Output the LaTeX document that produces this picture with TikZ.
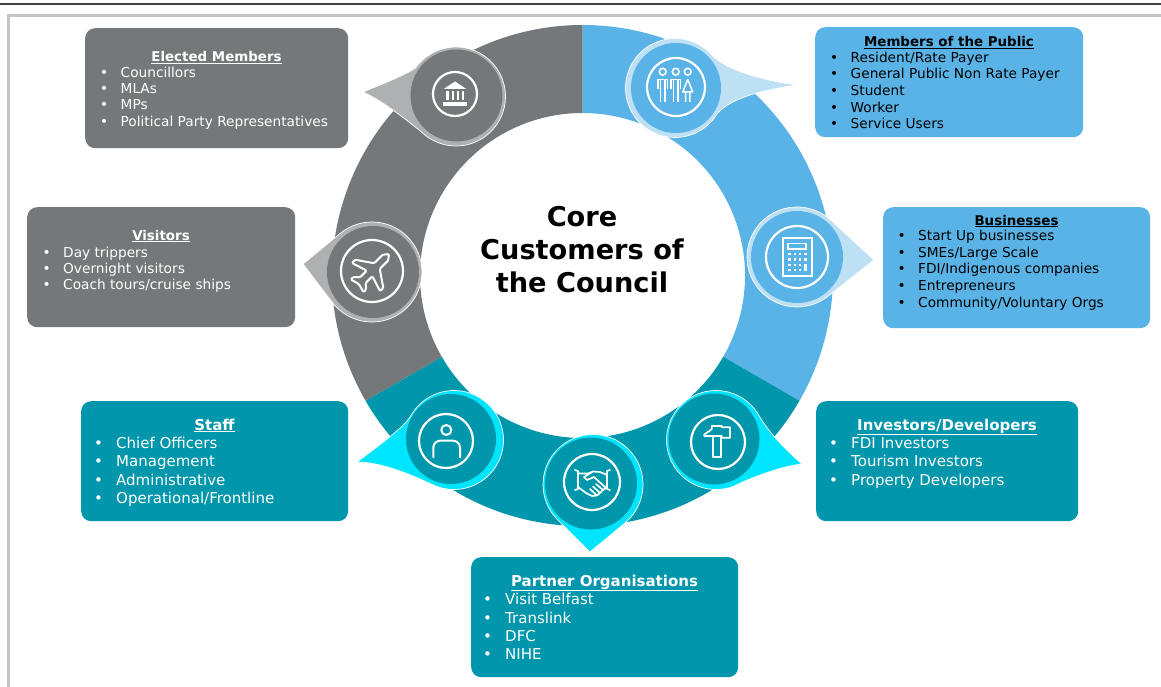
\documentclass[tikz,border=0pt]{standalone}
\usepackage{fontspec}
\setmainfont{DejaVu Sans}
\usetikzlibrary{calc}
\definecolor{cgray}{HTML}{75787B}
\definecolor{cblue}{HTML}{59B3E6}
\definecolor{cteal}{HTML}{0096AB}
\definecolor{lgray}{HTML}{AEB0B2}
\definecolor{lblue}{HTML}{BDE0F5}
\definecolor{lcyan}{HTML}{00E5FF}
\definecolor{framecol}{HTML}{C4C4C4}
\tikzset{
  infobox/.style={rounded corners=10pt,draw=none},
  boxtitle/.style={anchor=base,inner sep=0pt,font=\bfseries\fontsize{13.4}{16}\selectfont},
  boxitem/.style={anchor=base west,inner sep=0pt,font=\fontsize{13.7}{16}\selectfont},
  bigtitle/.style={anchor=base,inner sep=0pt,font=\bfseries\fontsize{15}{18}\selectfont},
  bigitem/.style={anchor=base west,inner sep=0pt,font=\fontsize{15}{18}\selectfont},
  corelabel/.style={anchor=base,inner sep=0pt,font=\bfseries\fontsize{27.2}{32}\selectfont,text=black},
  iconline/.style={draw=white,line width=2pt,line join=round,line cap=round},
  iconring/.style={draw=white,line width=2.2pt},
  pinoutline/.style={fill=pincolor,draw=white,line width=.7pt,line join=miter},
}
% #1 centre, #2 R, #3 tip, #4 start angle, #5 end angle, #6-#9 controls; colour = pincolor
\newcommand{\pinshape}[9]{%
  \coordinate (pc) at #1;
  \path[pinoutline] #3 .. controls #6 and #7 .. ($(pc)+(#4:#2)$)
    arc[start angle=#4,end angle=#5,radius=#2]
    .. controls #8 and #9 .. #3 -- cycle;
}
\begin{document}
\begin{tikzpicture}[x=1pt,y=-1pt]
\useasboundingbox (0,0) rectangle (1161,687);
\fill[white] (0,0) rectangle (1161,687);
% page rules
\draw[draw=black!75,line width=2pt] (0,4.5) -- (1161,4.5);
\draw[framecol,line width=2.6pt] (8.5,689) -- (8.5,15.5) -- (1163,15.5);
% ring
\coordinate (rc) at (582.5,275.5);
\fill[cblue] ($(rc)+(-90:250.5)$) arc[start angle=-90,end angle=30,radius=250.5] -- ($(rc)+(30:162.5)$) arc[start angle=30,end angle=-90,radius=162.5] -- cycle;
\fill[cteal] ($(rc)+(30:250.5)$) arc[start angle=30,end angle=150,radius=250.5] -- ($(rc)+(150:162.5)$) arc[start angle=150,end angle=30,radius=162.5] -- cycle;
\fill[cgray] ($(rc)+(150:250.5)$) arc[start angle=150,end angle=270,radius=250.5] -- ($(rc)+(270:162.5)$) arc[start angle=270,end angle=150,radius=162.5] -- cycle;
% centre text
\node[corelabel] (core1) at (582,226.5) {Core};
\node[corelabel] (core2) at (582,259.5) {Customers of};
\node[corelabel] (core3) at (582,292.5) {the Council};
% pins
\colorlet{pincolor}{lgray}
\pinshape{(456,96.5)}{49.5}{(363,92)}{215}{494}{(385,83)}{(405,75)}{(410,123)}{(385,102)}
\fill[cgray] (456.5,95.5) circle[radius=46];
\colorlet{pincolor}{lblue}
\pinshape{(675,88)}{49.5}{(798,85)}{37}{317}{(760,90)}{(724,100)}{(720,66)}{(755,80)}
\fill[cblue] (676,88) circle[radius=45];
\pinshape{(797,257)}{50}{(874,260)}{51.7}{312.7}{(874,260)}{(828,296.2)}{(830.9,220.2)}{(874,260)}
\fill[cblue] (797,257) circle[radius=46];
\colorlet{pincolor}{lgray}
\pinshape{(372,272)}{50}{(303,264)}{230.6}{502.6}{(303,264)}{(340.3,233.3)}{(332.3,302.4)}{(303,264)}
\fill[cgray] (373,272) circle[radius=46];
\colorlet{pincolor}{lcyan}
\pinshape{(454,440)}{49.5}{(357,462)}{211}{475}{(378,446)}{(405,427)}{(420,479)}{(385,462)}
\fill[cteal] (451,439) circle[radius=45];
\pinshape{(593,484.5)}{50}{(590,552)}{134.7}{410.3}{(590,552)}{(557.8,520)}{(624.9,523)}{(590,552)}
\fill[cteal] (591,483.5) circle[radius=46];
\pinshape{(716,440)}{49.5}{(802,464)}{70}{332}{(782,466)}{(750,478)}{(767,429)}{(780,445)}
\fill[cteal] (714,439) circle[radius=45.5];
% icon rings
\draw[iconring] (455,94) circle[radius=22];
\draw[iconring] (676,87) circle[radius=29];
\draw[iconring] (797,257) circle[radius=31];
\draw[iconring] (372,271) circle[radius=31];
\draw[iconring] (446,441) circle[radius=27];
\draw[iconring] (592,482) circle[radius=28];
\draw[iconring] (718,442) circle[radius=27];
% bank icon
\fill[white] (455,81.5) -- (466,88.8) -- (444,88.8) -- cycle;
\fill[white] (443,102) rectangle (467,106.5);
\foreach \cx in {447.5,452.7,458,463}{\fill[white] (\cx-1.2,91) rectangle (\cx+1.2,100);}
% people icon
\foreach \hx in {662.7,675.7,687.7}{\draw[white,line width=1.6pt] (\hx,71.7) circle[radius=3.4];}
\foreach \hx in {662.7,675.7}{
  \draw[white,line width=1.5pt,line join=round] (\hx-4.9,89) -- (\hx-4.9,79.5) -- (\hx+4.9,79.5) -- (\hx+4.9,89);
  \draw[white,line width=1.5pt,line join=round] (\hx-2.2,102) -- (\hx-2.2,79.5) (\hx+2.2,79.5) -- (\hx+2.2,102);
}
\draw[white,line width=1.5pt,line join=round] (687.7,79.5) -- (682.7,92) -- (692.7,92) -- cycle (685.5,92) -- (685.5,102) (689.9,92) -- (689.9,102);
% calculator icon
\draw[iconline,line join=miter] (783.3,238.3) rectangle (811.7,276);
\draw[white,line width=1.4pt] (788,243.5) rectangle (806,249);
\foreach \dx in {789.3,794.7,800}{\foreach \dy in {254,259.3,264.7,270}{\fill[white] (\dx-1.2,\dy-1.2) rectangle (\dx+1.2,\dy+1.2);}}
\fill[white] (804.1,252.8) rectangle (806.5,255.2);
\fill[white] (804.1,258.1) rectangle (806.5,260.5);
\fill[white] (804.1,263.5) rectangle (806.5,271.2);
% plane icon
\begin{scope}[shift={(372,271)},rotate=-45]
\draw[iconline,rounded corners=1.2pt] (0,-24) -- (4,-19) -- (4,-7) -- (20,4) -- (20,8.5) -- (4,3.5) -- (4,13) -- (9,17.5) -- (9,21) -- (0,18.5) -- (-9,21) -- (-9,17.5) -- (-4,13) -- (-4,3.5) -- (-20,8.5) -- (-20,4) -- (-4,-7) -- (-4,-19) -- cycle;
\end{scope}
% person icon
\draw[iconline] (446.3,430) circle[radius=5];
\draw[iconline,rounded corners=7pt] (433.3,457.3) -- (433.3,440.7) -- (460,440.7) -- (460,457.3);
% handshake icon
\draw[white,line width=1.7pt,line join=round,line cap=round]
  (575,470) -- (578,471) -- (578,489) -- (575,490)
  (610,470) -- (607,471) -- (607,489) -- (610,490)
  (578,473.5) -- (588,473.5) -- (593,471.5) -- (600,472) -- (607,475)
  (593,471.5) -- (584,477) -- (587,480) -- (594,477) -- (606,488) -- (603,490) -- (596,484)
  (603,490) -- (600,493) -- (593,486.5)
  (600,493) -- (597,495.5) -- (590,489)
  (597,495.5) -- (592,496) -- (586,493) -- (578,487);
% hammer icon
\draw[iconline,line width=1.7pt] (704.3,436) -- (704.3,434.5) -- (711.7,429.3) -- (711.7,426) -- (721.7,426) -- (721.7,427.3) -- (730,427.3) -- (730,437.7) -- (721.7,437.7) -- (721.7,436) -- cycle;
\draw[iconline,line width=1.7pt] (713.3,436) -- (713.3,457.3) -- (720.7,457.3) -- (720.7,436);
% Elected Members
\node[infobox,fill=cgray,minimum width=263pt,minimum height=120pt,anchor=north west] (boxElected) at (85,28) {};
\node[boxtitle,text=white] (tElected) at (216.5,62) {\underline{Elected Members}};
\foreach \n/\yy/\t in {a/78/{Councillors},b/94/{MLAs},c/110/{MPs},d/127/{Political Party Representatives}}{
  \node[boxitem,text=white] (e\n) at (120.5,\yy) {\t};
  \node[boxitem,text=white] (eb\n) at (100,\yy) {•};
}
% Members of the Public
\node[infobox,fill=cblue,minimum width=268pt,minimum height=110pt,anchor=north west] (boxPublic) at (815,27) {};
\node[boxtitle,text=black] (tPublic) at (949,47) {\underline{Members of the Public}};
\foreach \n/\yy/\t in {a/63/{Resident/Rate Payer},b/79/{General Public Non Rate Payer},c/95.5/{Student},d/112.5/{Worker},e/129/{Service Users}}{
  \node[boxitem,text=black] (p\n) at (850.5,\yy) {\t};
  \node[boxitem,text=black] (pb\n) at (830,\yy) {•};
}
% Businesses
\node[infobox,fill=cblue,minimum width=267pt,minimum height=121pt,anchor=north west] (boxBiz) at (883,207) {};
\node[boxtitle,text=black] (tBiz) at (1016.5,225) {\underline{Businesses}};
\foreach \n/\yy/\t in {a/240/{Start Up businesses},b/257/{SMEs/Large Scale},c/273/{FDI/Indigenous companies},d/290/{Entrepreneurs},e/307/{Community/Voluntary Orgs}}{
  \node[boxitem,text=black] (b\n) at (918,\yy) {\t};
  \node[boxitem,text=black] (bb\n) at (897.5,\yy) {•};
}
% Visitors
\node[infobox,fill=cgray,minimum width=268pt,minimum height=120pt,anchor=north west] (boxVisitors) at (27,207) {};
\node[boxtitle,text=white] (tVisitors) at (161,240) {\underline{Visitors}};
\foreach \n/\yy/\t in {a/257/{Day trippers},b/273/{Overnight visitors},c/289/{Coach tours/cruise ships}}{
  \node[boxitem,text=white] (v\n) at (63,\yy) {\t};
  \node[boxitem,text=white] (vb\n) at (42.5,\yy) {•};
}
% Staff
\node[infobox,fill=cteal,minimum width=267pt,minimum height=120pt,anchor=north west] (boxStaff) at (81,401) {};
\node[bigtitle,text=white] (tStaff) at (214.5,430) {\underline{Staff}};
\foreach \n/\yy/\t in {a/448/{Chief Officers},b/466/{Management},c/485/{Administrative},d/503/{Operational/Frontline}}{
  \node[bigitem,text=white] (s\n) at (116,\yy) {\t};
  \node[bigitem,text=white] (sb\n) at (94,\yy) {•};
}
% Investors
\node[infobox,fill=cteal,minimum width=262pt,minimum height=120pt,anchor=north west] (boxInv) at (816,401) {};
\node[bigtitle,text=white] (tInv) at (947,430) {\underline{Investors/Developers}};
\foreach \n/\yy/\t in {a/448/{FDI Investors},b/466/{Tourism Investors},c/485/{Property Developers}}{
  \node[bigitem,text=white] (i\n) at (851,\yy) {\t};
  \node[bigitem,text=white] (ib\n) at (829,\yy) {•};
}
% Partner
\node[infobox,fill=cteal,minimum width=267pt,minimum height=120pt,anchor=north west] (boxPartner) at (471,557) {};
\node[bigtitle,text=white] (tPartner) at (604.5,586) {\underline{Partner Organisations}};
\foreach \n/\yy/\t in {a/604/{Visit Belfast},b/623/{Translink},c/641/{DFC},d/659/{NIHE}}{
  \node[bigitem,text=white] (o\n) at (505,\yy) {\t};
  \node[bigitem,text=white] (ob\n) at (483,\yy) {•};
}
\end{tikzpicture}
\end{document}
